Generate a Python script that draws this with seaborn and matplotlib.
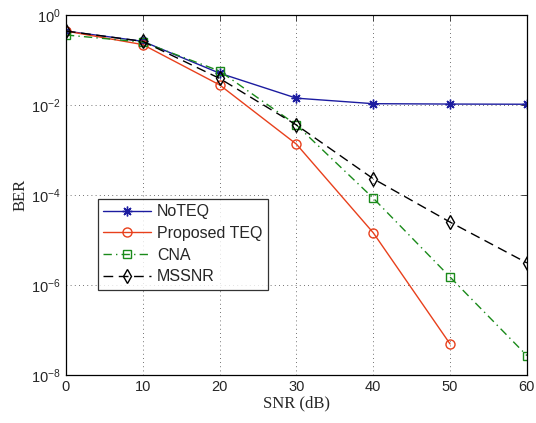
import matplotlib
matplotlib.use("Agg")
import matplotlib.pyplot as plt
import seaborn as sns
import pandas as pd
from matplotlib.ticker import FixedLocator

snr = [0, 10, 20, 30, 40, 50, 60]
noteq = [0.44, 0.26, 0.051, 0.0142, 0.0107, 0.0105, 0.0104]
proposed = [0.44, 0.22, 0.028, 0.00135, 1.45e-5, 4.9e-8]
cna = [0.36, 0.25, 0.057, 0.0036, 8.5e-5, 1.5e-6, 2.7e-8]
mssnr = [0.44, 0.26, 0.039, 0.0036, 2.3e-4, 2.5e-5, 3.1e-6]

series_names = ["NoTEQ", "Proposed TEQ", "CNA", "MSSNR"]
series_vals = [noteq, proposed, cna, mssnr]

sns.set_style("white")
plt.rcParams['font.family'] = ['Liberation Sans', 'DejaVu Sans']

fig = plt.figure(figsize=(5.36, 4.23), dpi=100)
ax = fig.add_axes([0.123, 0.1135, 0.860, 0.851])

styles = {
    "NoTEQ": dict(color="#1c1ca0", marker=(8, 2, 0), linestyle="-", ms=7, mfc="#1c1ca0"),
    "Proposed TEQ": dict(color="#e8401c", marker="o", linestyle="-", ms=6.5, mfc="none"),
    "CNA": dict(color="#1a8a1a", marker="s", linestyle=(0, (6, 3, 1, 3)), ms=5.5, mfc="none"),
    "MSSNR": dict(color="black", marker="d", linestyle=(0, (7, 4)), ms=7, mfc="none"),
}

for name, vals in zip(series_names, series_vals):
    df = pd.DataFrame({"SNR": snr[:len(vals)], "BER": vals})
    st = styles[name]
    sns.lineplot(data=df, x="SNR", y="BER", ax=ax, label=name, color=st["color"],
                 marker=st["marker"], markersize=st["ms"], markerfacecolor=st["mfc"],
                 markeredgecolor=st["color"], markeredgewidth=1.0,
                 linewidth=1.0)
    ax.lines[-1].set_linestyle(st["linestyle"])

ax.set_yscale("log")
ax.set_xlim(0, 60)
ax.set_ylim(1e-8, 1)
ax.set_xticks([0, 10, 20, 30, 40, 50, 60])
ax.yaxis.set_major_locator(FixedLocator([1e-8, 1e-6, 1e-4, 1e-2, 1]))
ax.yaxis.set_minor_locator(FixedLocator([]))
ax.tick_params(direction="in", top=True, right=True, labelsize=10.5, length=4, width=0.6)
ax.grid(True, linestyle=(0, (1, 4)), color="#444444", linewidth=0.6)
for s in ax.spines.values():
    s.set_linewidth(0.9)
    s.set_color("black")

ax.set_xlabel("SNR (dB)", family="Liberation Serif", fontsize=12, labelpad=1)
ax.set_ylabel("BER", family="Liberation Serif", fontsize=12, labelpad=2)

handles, labels = ax.get_legend_handles_labels()
for h, name in zip(handles, series_names):
    h.set_linestyle(styles[name]["linestyle"])
leg = ax.legend(handles, labels, loc="lower left", bbox_to_anchor=(0.069, 0.236),
                fontsize=11.5, frameon=True, fancybox=False, borderaxespad=0,
                handlelength=3.0, handletextpad=0.35, labelspacing=0.42, borderpad=0.35)
leg.get_frame().set_edgecolor("black")
leg.get_frame().set_linewidth(0.9)

fig.savefig("out.png", dpi=100)
